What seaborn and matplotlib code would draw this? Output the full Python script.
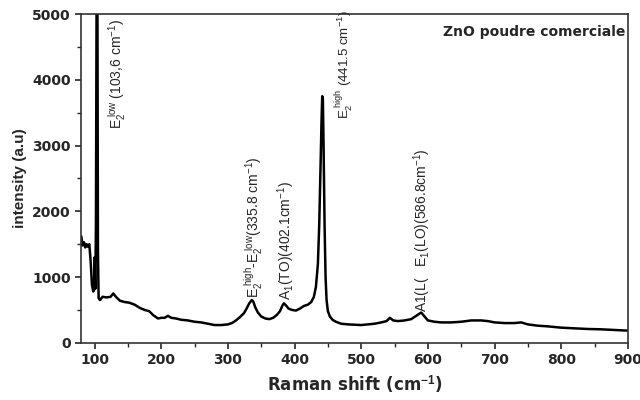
import matplotlib
matplotlib.use("Agg")
import matplotlib.pyplot as plt
import seaborn as sns
import pandas as pd
from matplotlib.ticker import MultipleLocator

raman_shift = [80, 82, 84, 86, 88, 90, 92, 94, 96, 98, 99, 100, 101, 102, 103, 103.6, 104.2, 105, 106, 108,
               112, 118, 124, 128, 132, 138, 145, 152, 160, 168, 175, 182, 188, 195, 200, 205, 210, 215, 222,
               230, 240, 250, 260, 270, 280, 290, 300, 306, 312, 318, 324, 328, 332, 335.8, 338, 341, 345,
               350, 356, 362, 368, 374, 378, 382, 384, 387, 391, 396, 402, 408, 414, 420, 425, 429, 432,
               435, 437, 439, 440.5, 441.5, 442.5, 443.5, 445, 446.5, 448, 450, 453, 457, 462, 470, 480,
               490, 500, 510, 520, 530, 538, 543, 548, 555, 565, 575, 581, 586.8, 590, 595, 600, 610, 620,
               635, 650, 665, 680, 690, 700, 715, 730, 740, 750, 765, 780, 800, 820, 840, 860, 880, 900]
intensity = [1620, 1480, 1530, 1450, 1500, 1460, 1500, 1250, 880, 780, 800, 1300, 820, 1800, 5400, 6500, 5400,
             1400, 680, 650, 700, 690, 700, 750, 700, 640, 620, 610, 580, 530, 500, 480, 420, 370, 380, 380,
             410, 380, 370, 350, 340, 320, 310, 290, 270, 270, 280, 300, 340, 390, 450, 520, 600, 650, 630,
             540, 460, 400, 370, 360, 380, 430, 480, 570, 600, 570, 520, 500, 490, 520, 560, 580, 620, 700,
             850, 1200, 1800, 2700, 3400, 3750, 3700, 3000, 1800, 1000, 650, 480, 400, 350, 320, 290, 280,
             275, 270, 280, 290, 310, 330, 380, 340, 330, 340, 360, 400, 440, 460, 400, 340, 320, 310, 310,
             320, 340, 340, 330, 310, 300, 300, 310, 280, 260, 250, 230, 220, 210, 205, 195, 185]

sample_label = "ZnO poudre comerciale"
peak_labels = [
    r"$\mathregular{E_2^{\ low}}$ (103,6 cm$^{\mathregular{-1}}$)",
    r"$\mathregular{E_2^{\ high}}$-$\mathregular{E_2^{\ low}}$(335.8 cm$^{\mathregular{-1}}$)",
    r"A$_{\mathregular{1}}$(TO)(402.1cm$^{\mathregular{-1}}$)",
    r"$\mathregular{E_2^{\ high}}$ (441.5 cm$^{\mathregular{-1}}$)",
    r"A1(L(   E$_{\mathregular{1}}$(LO)(586.8cm$^{\mathregular{-1}}$)",
]
peak_label_x = [133, 340, 387, 475, 592]
peak_label_y = [3250, 680, 650, 3400, 470]

df = pd.DataFrame({"Raman shift": raman_shift, "intensity": intensity})

sns.set_style("ticks")
plt.rcParams["font.family"] = ["Liberation Sans", "DejaVu Sans"]
plt.rcParams["mathtext.fontset"] = "custom"
plt.rcParams["mathtext.rm"] = "Liberation Sans"
plt.rcParams["mathtext.it"] = "Liberation Sans"
plt.rcParams["mathtext.bf"] = "Liberation Sans:bold"

wide = ["DejaVu Sans"]

fig = plt.figure(figsize=(6.4, 4.0), dpi=100)
ax = fig.add_axes([0.127, 0.143, 0.854, 0.822])
sns.lineplot(data=df, x="Raman shift", y="intensity", color="black", linewidth=1.8, ax=ax, sort=False)

ax.set_xlim(80, 900)
ax.set_ylim(0, 5000)
ax.xaxis.set_major_locator(MultipleLocator(100))
ax.xaxis.set_minor_locator(MultipleLocator(50))
ax.yaxis.set_major_locator(MultipleLocator(1000))
ax.yaxis.set_minor_locator(MultipleLocator(500))
ax.tick_params(which="major", direction="out", length=4, width=1.2, labelsize=10)
ax.tick_params(which="minor", direction="out", length=3, width=1.0)
for lab in ax.get_xticklabels() + ax.get_yticklabels():
    lab.set_fontweight("bold")
    lab.set_family(wide)
for sp in ax.spines.values():
    sp.set_linewidth(1.2)
    sp.set_color("#333333")

ax.set_xlabel(r"Raman shift (cm$^{\mathbf{-1}}$)", fontsize=12, fontweight="bold", family=wide)
ax.set_ylabel("intensity (a.u)", fontsize=11, fontweight="bold")

ax.text(0.995, 0.945, sample_label, transform=ax.transAxes, ha="right", va="center",
        fontsize=10, fontweight="bold", family=wide)

for i, (lbl, xx, yy) in enumerate(zip(peak_labels, peak_label_x, peak_label_y)):
    ax.text(xx, yy, lbl, rotation=90, ha="center", va="bottom", fontsize=9.5 if i == 3 else 10)

fig.savefig("out.png", dpi=100)
